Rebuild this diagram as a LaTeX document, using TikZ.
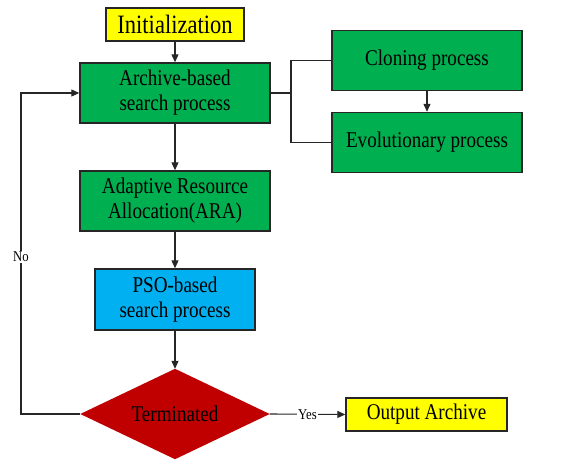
\documentclass[tikz,border=0pt]{standalone}
\usepackage{fontspec}
\setmainfont{Liberation Serif}[FakeStretch=0.85]
\usetikzlibrary{arrows.meta}
\definecolor{boxgreen}{HTML}{00B050}
\definecolor{boxblue}{HTML}{00B0F0}
\definecolor{boxyellow}{HTML}{FFFF00}
\definecolor{boxred}{HTML}{C00000}
\definecolor{edge}{HTML}{262626}
\begin{document}
\begin{tikzpicture}[x=1pt,y=-1pt,
  box/.style={draw=edge, line width=1.4pt, rectangle, inner sep=0pt, align=center,
    font=\fontsize{22.5}{25}\selectfont},
  gbox/.style={box, fill=boxgreen, minimum width=190pt, minimum height=60pt},
  conn/.style={draw=edge, line width=1.1pt},
  arr/.style={conn, -{Triangle[length=8pt,width=7pt]}},
  lbl/.style={fill=white, inner sep=1pt, font=\fontsize{15}{16}\selectfont}]
\useasboundingbox (0,0) rectangle (582,460);
\node[box, fill=boxyellow, minimum width=138pt, minimum height=33pt,
  font=\fontsize{26.5}{28}\selectfont] (init) at (175,24.5) {Initialization};
\node[gbox] (arch) at (175,93) {Archive-based\\search process};
\node[gbox] (clon) at (427,60.5) {Cloning process};
\node[gbox] (evol) at (427,142.5) {Evolutionary process};
\node[gbox] (ara) at (175,201) {Adaptive Resource\\Allocation(ARA)};
\node[box, fill=boxblue, minimum width=160pt, minimum height=61pt] (pso) at (175,299.5) {PSO-based\\search process};
\node[minimum width=189pt, minimum height=90pt, inner sep=0pt] (termbg) at (175,414) {};
\fill[boxred] (termbg.north) -- (termbg.east) -- (termbg.south) -- (termbg.west) -- cycle;
\node[font=\fontsize{22.5}{24.5}\selectfont] (term) at (termbg.center) {Terminated};
\node[box, fill=boxyellow, minimum width=161pt, minimum height=33pt] (out) at (426.5,414.5) {Output Archive};
\coordinate (bt) at (291,60.5);
\coordinate (bb) at (291,142.5);
\coordinate (lb) at (21,414);
\coordinate (lt) at (21,93);
\draw[arr] (init) -- (arch);
\draw[arr] (arch) -- (ara);
\draw[arr] (ara) -- (pso);
\draw[arr] (pso) -- (termbg.north);
\draw[arr] (clon) -- (evol);
\draw[conn] (clon.west) -- (bt) -- (bb) -- (evol.west);
\draw[conn] (arch.east) -- (arch.east -| bt);
\draw[arr] (termbg.east) -- node[lbl] (yes) {Yes} (out.west);
\draw[arr] (termbg.west) -- (lb) -- node[lbl, pos=0.49] (no) {No} (lt) -- (arch.west);
\end{tikzpicture}
\end{document}
